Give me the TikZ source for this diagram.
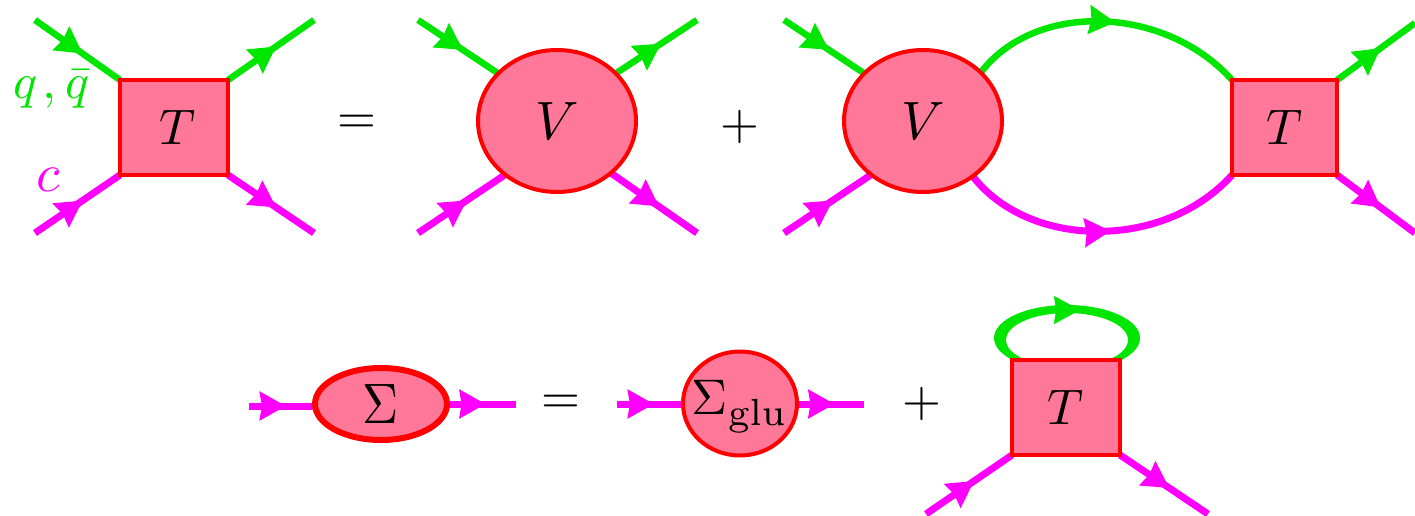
\documentclass[tikz,border=0pt]{standalone}
\usetikzlibrary{arrows.meta,decorations.markings,shapes.geometric,backgrounds}
\definecolor{gl}{RGB}{0,230,0}
\definecolor{mg}{RGB}{255,0,255}
\definecolor{pk}{RGB}{255,119,153}
\definecolor{rd}{RGB}{255,0,0}
\newcommand{\ml}[1]{\scalebox{5}{$#1$}}
\tikzset{
 lbl/.style={inner sep=0pt},
 sq/.style={draw=rd,fill=pk,line width=4pt,rectangle,minimum width=#1,minimum height=95pt,inner sep=0pt,outer sep=0pt},
 blob/.style={draw=rd,fill=pk,line width=4pt,ellipse,inner sep=0pt,outer sep=0pt},
 tipmark/.style={arrows={}},
 head/.style={postaction={decorate},decoration={markings,mark=at position #1 with {\arrow{Stealth[length=26pt,width=28pt,inset=2pt]}}}},
 gline/.style={draw=gl,line width=6.5pt,head=#1},
 gline/.default=0.56,
 mline/.style={draw=mg,line width=7pt,head=#1},
 mline/.default=0.56,
}
\begin{document}
\begin{tikzpicture}[x=1pt,y=-1pt,line cap=butt]
\useasboundingbox (0,0) rectangle (1415,516);
% top row
\node[sq=108pt] (T1) at (174,127.5) {\hspace*{7pt}\ml{T}};
\node[blob,minimum width=158pt,minimum height=142pt] (V1) at (557,121) {\scalebox{5.4}{$V$}};
\node[blob,minimum width=158pt,minimum height=142pt] (V2) at (923,121) {\scalebox{5.4}{$V$}};
\node[sq=105pt] (T2) at (1284.5,127.5) {\ml{T}};
\node[lbl,text=gl] (qq) at (51.5,89) {\ml{q\kern.1em,\bar q}};
\node[lbl,text=mg] (cc) at (48,180) {\scalebox{5.4}{$c$}};
\node[lbl] (eq1) at (357,124) {\ml{=}};
\node[lbl] (pl1) at (740,127) {\ml{+}};
% bottom row
\node[blob,line width=6pt,minimum width=132pt,minimum height=72pt] (S1) at (381,404) {\scalebox{5}[5.7]{$\Sigma$}};
\node[blob,minimum width=114pt,minimum height=104pt,label={[inner sep=0pt,yshift=-3pt]center:\ml{\Sigma_{\raisebox{-.8pt}{\scalebox{1.08}{$\scriptstyle\rm glu$}}}}}] (S2) at (740,403.5) {};
\node[lbl] (eq2) at (561,404) {\ml{=}};
\node[lbl] (pl2) at (922,404) {\ml{+}};
\node[sq=108pt] (T3) at (1066,407.5) {\ml{T}};
% free ends
\coordinate (a1) at (35,20); \coordinate (a2) at (314,20);
\coordinate (a3) at (35,233); \coordinate (a4) at (314,233);
\coordinate (b1) at (418,20); \coordinate (b2) at (697,20);
\coordinate (b3) at (418,233); \coordinate (b4) at (697,233);
\coordinate (c1) at (784,20); \coordinate (c3) at (784,233);
\coordinate (d2) at (1415,23); \coordinate (d4) at (1415,233);
\coordinate (e1) at (249,406); \coordinate (e2) at (516,404);
\coordinate (f1) at (617,404); \coordinate (f2) at (864,404);
\coordinate (g3) at (926,514); \coordinate (g4) at (1208,514);
\coordinate (lpL) at (1053,310); \coordinate (lpR) at (1107,310);
\begin{pgfonlayer}{background}
\draw[gline] (a1) -- (T1.north west);
\draw[gline] (T1.north east) -- (a2);
\draw[mline] (a3) -- (T1.south west);
\draw[mline] (T1.south east) -- (a4);
\draw[gline] (b1) -- (V1.141);
\draw[gline] (V1.39) -- (b2);
\draw[mline] (b3) -- (V1.226);
\draw[mline] (V1.-44) -- (b4);
\draw[gline] (c1) -- (V2.141);
\draw[mline] (c3) -- (V2.226);
\draw[gline] (T2.north east) -- (d2);
\draw[mline] (T2.south east) -- (d4);
\draw[gline=0.53] (V2.40) .. controls (1035,1) and (1165,5) .. (T2.north west);
\draw[mline=0.53] (V2.-48) .. controls (1030,250) and (1165,250) .. (T2.south west);
\draw[mline] (e1) -- (e1 -| S1.west);
\draw[mline] (e2 -| S1.east) -- (e2);
\draw[mline] (f1) -- (f1 -| S2.west);
\draw[mline] (f2 -| S2.east) -- (f2);
\draw[mline] (g3) -- (T3.south west);
\draw[mline] (T3.south east) -- (g4);
\fill[gl,even odd rule] (1067,338) ellipse [x radius=73,y radius=33] (1067,340) ellipse [x radius=61,y radius=27];
\path[draw=none,postaction={decorate},decoration={markings,mark=at position 0.5 with {\arrow[gl]{Stealth[length=26pt,width=28pt,inset=2pt]}}}] (lpL) -- (lpR);
\end{pgfonlayer}
\end{tikzpicture}
\end{document}
